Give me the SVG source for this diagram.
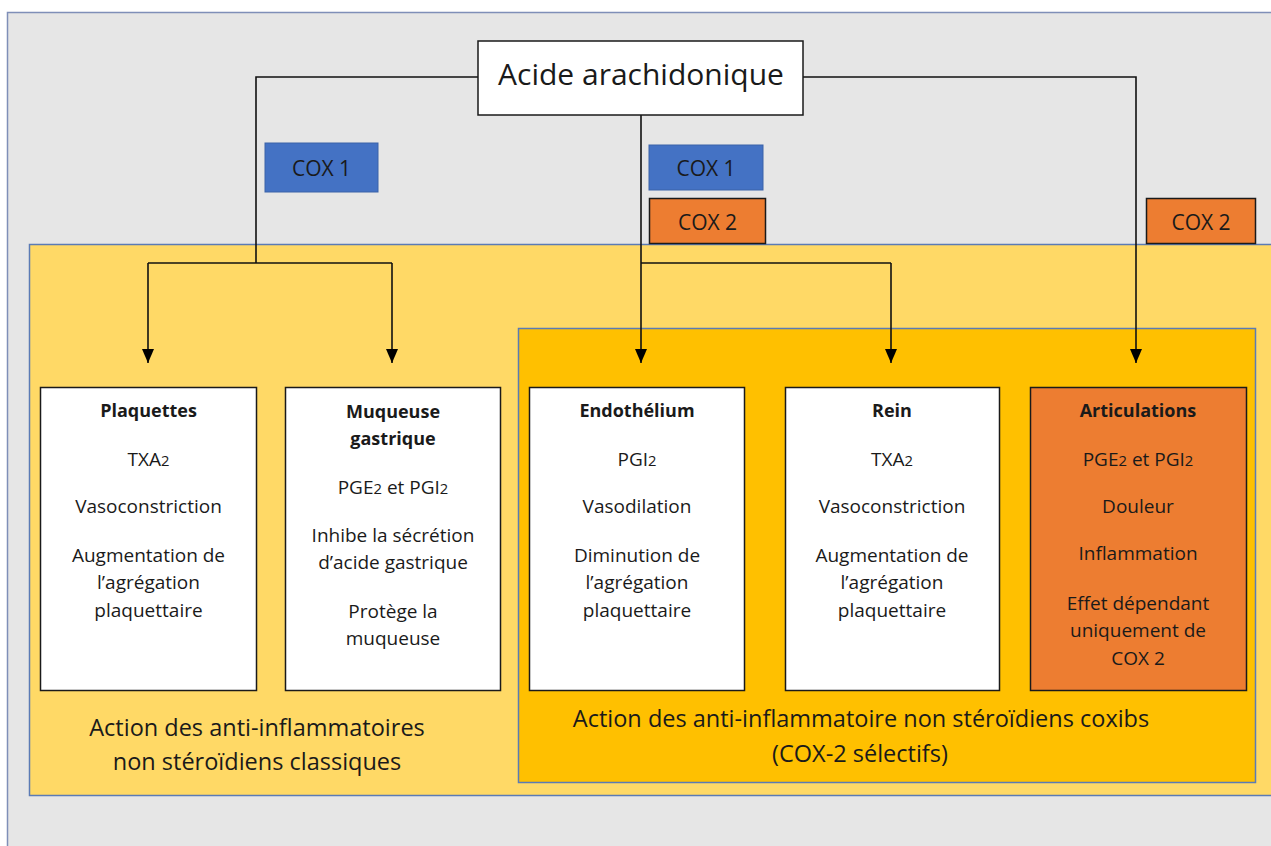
<svg xmlns="http://www.w3.org/2000/svg" width="1271" height="846" viewBox="0 0 1271 846">
<defs>
<style>
text{fill:#1a1a1a;text-anchor:middle;font-family:"Open Sans","Noto Sans","Liberation Sans",sans-serif}
.t{font-size:19px}
.b{font-size:18px;font-weight:bold}
.lab{font-size:23.5px}
.cox{font-size:21px}
.node{stroke:#1a1a1a;stroke-width:1.5}
.con{fill:none;stroke:#111;stroke-width:1.6}
.s{font-size:0.78em}
</style>
<marker id="ah" viewBox="0 0 14 12" refX="14" refY="6" markerWidth="14" markerHeight="12" markerUnits="userSpaceOnUse" orient="auto">
<path d="M0,0 L14,6 L0,12 Z" fill="#000"/>
</marker>
</defs>
<rect x="0" y="0" width="1271" height="846" fill="#ffffff"/>
<rect id="page" x="7.5" y="12.5" width="1270" height="840" fill="#E6E6E6" stroke="#7F8FB8" stroke-width="1.5"/>
<rect id="classiques" x="29.5" y="244.5" width="1250" height="551" fill="#FFD966" stroke="#5B7BB5" stroke-width="1.5"/>
<rect id="coxibs" x="518.5" y="328.5" width="737" height="454" fill="#FFC000" stroke="#5B7BB5" stroke-width="1.5"/>

<g id="connectors">
<path class="con" d="M478,77 H256 V263"/>
<path class="con" d="M148,263 H392"/>
<path class="con" d="M148,263 V363" marker-end="url(#ah)"/>
<path class="con" d="M392,263 V363" marker-end="url(#ah)"/>
<path class="con" d="M641,115 V263"/>
<path class="con" d="M641,263 H891"/>
<path class="con" d="M641,263 V363" marker-end="url(#ah)"/>
<path class="con" d="M891,263 V363" marker-end="url(#ah)"/>
<path class="con" d="M803,77 H1136 V363" marker-end="url(#ah)"/>
</g>

<g id="acide">
<rect class="node" x="478" y="41" width="325" height="74" fill="#fff"/>
<text x="641" y="85" style="font-size:30px">Acide arachidonique</text>
</g>

<g id="cox1-left">
<rect x="265" y="143" width="113" height="49" fill="#4472C4" stroke="#3A62A8" stroke-width="1"/>
<text class="cox" x="321.5" y="176">COX 1</text>
</g>
<g id="cox1-mid">
<rect x="649" y="145" width="114" height="45" fill="#4472C4" stroke="#3A62A8" stroke-width="1"/>
<text class="cox" x="706" y="176">COX 1</text>
</g>
<g id="cox2-mid">
<rect x="649.5" y="198.5" width="116" height="45" fill="#ED7D31" stroke="#1a1a1a" stroke-width="1.5"/>
<text class="cox" x="707.5" y="230">COX 2</text>
</g>
<g id="cox2-right">
<rect x="1146.5" y="198.5" width="109" height="45" fill="#ED7D31" stroke="#1a1a1a" stroke-width="1.5"/>
<text class="cox" x="1201" y="230">COX 2</text>
</g>

<g id="plaquettes">
<rect class="node" x="40.5" y="387.5" width="216" height="303" fill="#fff"/>
<text class="b" x="148.5" y="417">Plaquettes</text>
<text class="t" x="148.5" y="466">TXA<tspan class="s">2</tspan></text>
<text class="t" x="148.5" y="513">Vasoconstriction</text>
<text class="t" x="148.5" y="562">Augmentation de</text>
<text class="t" x="148.5" y="589">l’agrégation</text>
<text class="t" x="148.5" y="617">plaquettaire</text>
</g>

<g id="muqueuse">
<rect class="node" x="285.5" y="387.5" width="215" height="303" fill="#fff"/>
<text class="b" x="393" y="418">Muqueuse</text>
<text class="b" x="393" y="445">gastrique</text>
<text class="t" x="393" y="494">PGE<tspan class="s">2</tspan> et PGI<tspan class="s">2</tspan></text>
<text class="t" x="393" y="542">Inhibe la sécrétion</text>
<text class="t" x="393" y="569">d’acide gastrique</text>
<text class="t" x="393" y="618">Protège la</text>
<text class="t" x="393" y="645">muqueuse</text>
</g>

<g id="endothelium">
<rect class="node" x="529.5" y="387.5" width="215" height="303" fill="#fff"/>
<text class="b" x="637" y="417">Endothélium</text>
<text class="t" x="637" y="466">PGI<tspan class="s">2</tspan></text>
<text class="t" x="637" y="513">Vasodilation</text>
<text class="t" x="637" y="562">Diminution de</text>
<text class="t" x="637" y="589">l’agrégation</text>
<text class="t" x="637" y="617">plaquettaire</text>
</g>

<g id="rein">
<rect class="node" x="785.5" y="387.5" width="214" height="303" fill="#fff"/>
<text class="b" x="892" y="417">Rein</text>
<text class="t" x="892" y="466">TXA<tspan class="s">2</tspan></text>
<text class="t" x="892" y="513">Vasoconstriction</text>
<text class="t" x="892" y="562">Augmentation de</text>
<text class="t" x="892" y="589">l’agrégation</text>
<text class="t" x="892" y="617">plaquettaire</text>
</g>

<g id="articulations">
<rect class="node" x="1030.5" y="387.5" width="216" height="303" fill="#ED7D31"/>
<text class="b" x="1138" y="417">Articulations</text>
<text class="t" x="1138" y="466">PGE<tspan class="s">2</tspan> et PGI<tspan class="s">2</tspan></text>
<text class="t" x="1138" y="513">Douleur</text>
<text class="t" x="1138" y="560">Inflammation</text>
<text class="t" x="1138" y="610">Effet dépendant</text>
<text class="t" x="1138" y="637">uniquement de</text>
<text class="t" x="1138" y="665">COX 2</text>
</g>

<g id="label-classiques">
<text class="lab" x="257" y="736">Action des anti-inflammatoires</text>
<text class="lab" x="257" y="770">non stéroïdiens classiques</text>
</g>
<g id="label-coxibs">
<text class="lab" x="861" y="727">Action des anti-inflammatoire non stéroïdiens coxibs</text>
<text class="lab" x="860" y="762">(COX-2 sélectifs)</text>
</g>
</svg>
